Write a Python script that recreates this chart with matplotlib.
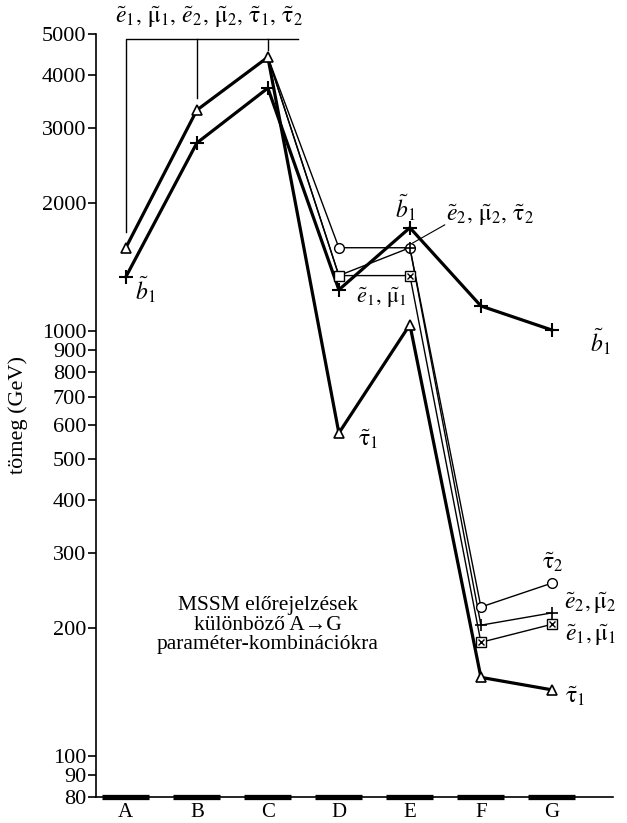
import numpy as np
import matplotlib.pyplot as plt

plt.rcParams['font.family'] = ['Liberation Serif', 'DejaVu Serif']
plt.rcParams['mathtext.fontset'] = 'stix'

categories = ['A', 'B', 'C', 'D', 'E', 'F', 'G']

# b~1 (vastag vonal, +)
sbottom1 = [1340, 2770, 3730, 1250, 1750, 1145, 1005]
# tau~1 (vastag vonal, haromszog), A-G
stau1 = [1570, 3310, 4410, 575, 1035, 153, 143]
# a tobbi slepton C-tol kezdve (A-C kozott egybeesnek a tau~1-gyel)
stau2 = [4410, 1570, 1570, 224, 255]   # kor
selec2 = [4410, 1350, 1570, 203, 217]  # e~2, mu~2, +
selec1 = [4410, 1350, 1350, 185, 204]  # e~1, mu~1, negyzet

yticks = [80, 90, 100, 200, 300, 400, 500, 600, 700, 800, 900,
          1000, 2000, 3000, 4000, 5000]

x = np.arange(len(categories))
xc = x[2:]

fig = plt.figure(figsize=(6.27, 8.23), dpi=100)
ax = fig.add_axes([96 / 627, 26 / 823, (613 - 96) / 627, (797 - 34) / 823])
ax.set_yscale('log')
ax.set_ylim(80, 5000)
ax.set_xlim(-0.42, 6.86)

thick = 2.3
thin = 1.0

# vekony vonalak
ax.plot(xc, stau2, color='black', lw=thin, zorder=2)
ax.plot(xc, selec2, color='black', lw=thin, zorder=2)
ax.plot(xc, selec1, color='black', lw=thin, zorder=2)
ax.plot(xc[1:], stau2[1:], 'o', ms=7, mfc='white', mec='black', mew=1.0, zorder=4)
ax.plot(xc[1:], selec1[1:], 's', ms=6.5, mfc='white', mec='black', mew=1.0, zorder=4)
ax.plot(xc[2:], selec1[2:], 'x', ms=5, mec='black', mew=1.0, zorder=5)
ax.plot(xc[2:], selec2[2:], '+', ms=9, mec='black', mew=1.2, zorder=5)

# vastag vonalak
ax.plot(x, sbottom1, color='black', lw=thick, zorder=3)
ax.plot(x, sbottom1, '+', ms=10, mec='black', mew=1.5, zorder=5)
ax.plot(x, stau1, color='black', lw=thick, zorder=3)
ax.plot(x, stau1, '^', ms=7, mfc='white', mec='black', mew=1.2, zorder=5)

# tengelyek
for s in ['top', 'right']:
    ax.spines[s].set_visible(False)
ax.spines['left'].set_linewidth(1.2)
ax.spines['bottom'].set_linewidth(1.2)
ax.set_yticks(yticks)
ax.set_yticklabels([str(t) for t in yticks])
ax.yaxis.set_minor_locator(plt.NullLocator())
ax.tick_params(axis='y', which='major', length=6, width=1.2, labelsize=16, pad=1)
ax.set_xticks(x)
ax.set_xticklabels(categories)
ax.tick_params(axis='x', length=0, labelsize=15, pad=4)
ax.hlines([80] * len(x), x - 0.33, x + 0.33, color='black', lw=3.8,
          clip_on=False, zorder=6)

fig.text(18 / 627, 1 - 415 / 823, 'tömeg (GeV)', rotation=90, ha='center',
         va='center', fontsize=16)

# felso zarojel
ax.plot([0, 0, 2.42], [1711, 4866, 4866], color='black', lw=1.0, clip_on=False)
ax.plot([1, 1], [3535, 4866], color='black', lw=1.0, clip_on=False)
ax.plot([2, 2], [4585, 4866], color='black', lw=1.0, clip_on=False)
ax.text(1.17, 5480,
        r'$\tilde{e}_1,\, \tilde{\mathrm{\mu}}_1,\, \tilde{e}_2,\, \tilde{\mathrm{\mu}}_2,\, '
        r'\tilde{\mathrm{\tau}}_1,\, \tilde{\mathrm{\tau}}_2$',
        ha='center', va='center', fontsize=17)

fs = 17
ax.text(0.27, 1250, r'$\tilde{b}_1$', ha='center', va='center', fontsize=fs)
ax.text(3.41, 555, r'$\tilde{\mathrm{\tau}}_1$', ha='center', va='center', fontsize=fs)
ax.text(3.93, 1950, r'$\tilde{b}_1$', ha='center', va='center', fontsize=fs)
ax.text(5.13, 1875, r'$\tilde{e}_2,\, \tilde{\mathrm{\mu}}_2,\, \tilde{\mathrm{\tau}}_2$',
        ha='center', va='center', fontsize=fs)
ax.plot([4.04, 4.49], [1611, 1777], color='black', lw=0.8)
ax.text(3.6, 1195, r'$\tilde{e}_1,\, \tilde{\mathrm{\mu}}_1$', ha='center', va='center', fontsize=16)
ax.text(6.68, 942, r'$\tilde{b}_1$', ha='center', va='center', fontsize=fs)
ax.text(6.01, 285, r'$\tilde{\mathrm{\tau}}_2$', ha='center', va='center', fontsize=fs)
ax.text(6.54, 229, r'$\tilde{e}_2, \tilde{\mathrm{\mu}}_2$', ha='center', va='center', fontsize=fs)
ax.text(6.54, 192, r'$\tilde{e}_1, \tilde{\mathrm{\mu}}_1$', ha='center', va='center', fontsize=fs)
ax.text(6.32, 138, r'$\tilde{\mathrm{\tau}}_1$', ha='center', va='center', fontsize=fs)

ax.text(2.0, 203, 'MSSM előrejelzések\nkülönböző A→G\nparaméter-kombinációkra',
        ha='center', va='center', fontsize=15.5, linespacing=1.05)

fig.savefig('out.png', dpi=100)
